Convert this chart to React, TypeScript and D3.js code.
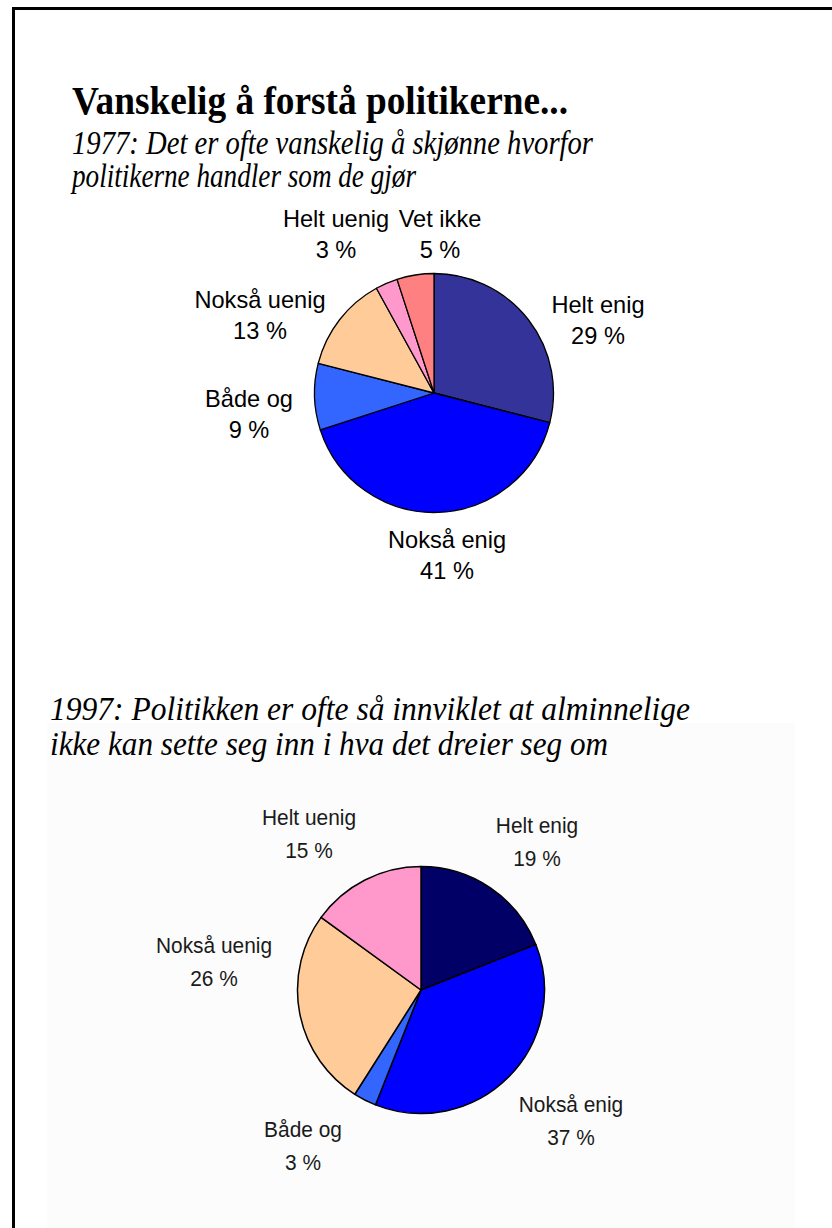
import * as d3 from "d3";

// survey answers
const categories1977 = ["Helt enig", "Nokså enig", "Både og", "Nokså uenig", "Helt uenig", "Vet ikke"];
const values1977 = [29, 41, 9, 13, 3, 5];
const categories1997 = ["Helt enig", "Nokså enig", "Både og", "Nokså uenig", "Helt uenig"];
const values1997 = [19, 37, 3, 26, 15];

const title = "Vanskelig å forstå politikerne...";
const subtitle1977 = ["1977: Det er ofte vanskelig å skjønne hvorfor", "politikerne handler som de gjør"];
const subtitle1997 = ["1997: Politikken er ofte så innviklet at alminnelige", "ikke kan sette seg inn i hva det dreier seg om"];

const colors1977: Record<string, string> = {
  "Helt enig": "#333399",
  "Nokså enig": "#0000ff",
  "Både og": "#3366ff",
  "Nokså uenig": "#ffcc99",
  "Helt uenig": "#ff99cc",
  "Vet ikke": "#ff8080",
};
const colors1997: Record<string, string> = {
  "Helt enig": "#000066",
  "Nokså enig": "#0000ff",
  "Både og": "#3366ff",
  "Nokså uenig": "#ffcc99",
  "Helt uenig": "#ff99cc",
};

// label block centres, relative to the pie centre
const labelAt1977: Record<string, [number, number]> = {
  "Helt enig": [164, -73],
  "Nokså enig": [13, 162],
  "Både og": [-185, 21],
  "Nokså uenig": [-174, -78],
  "Helt uenig": [-98, -159],
  "Vet ikke": [6, -159],
};
const labelAt1997: Record<string, [number, number]> = {
  "Helt uenig": [-112, -156],
  "Helt enig": [116, -148],
  "Nokså enig": [150, 131],
  "Både og": [-118, 156],
  "Nokså uenig": [-207, -28],
};

type PieProps = {
  cats: string[];
  vals: number[];
  cx: number;
  cy: number;
  r: number;
  colors: Record<string, string>;
  labelAt: Record<string, [number, number]>;
  fontSize: number;
  gap: number;
  squeeze: number;
  strokeWidth: number;
  textFill: string;
};

function Pie({ cats, vals, cx, cy, r, colors, labelAt, fontSize, gap, squeeze, strokeWidth, textFill }: PieProps) {
  const arcs = d3
    .pie<number>()
    .sort(null)
    .value((d) => d)(vals);
  const arc = d3.arc<d3.PieArcDatum<number>>().innerRadius(0).outerRadius(r);

  return (
    <g>
      <g transform={`translate(${cx},${cy})`}>
        {arcs.map((a, i) => (
          <path key={cats[i]} d={arc(a) || ""} fill={colors[cats[i]]} stroke="#000" strokeWidth={strokeWidth} strokeLinejoin="round" />
        ))}
      </g>
      {arcs.map((a, i) => {
        const [dx, dy] = labelAt[cats[i]];
        const x = cx + dx;
        const b1 = cy + dy - gap / 2 + fontSize * 0.358;
        return (
          <g key={"l" + cats[i]} fontFamily="'Liberation Sans', Arial, sans-serif" fontSize={fontSize} fill={textFill} textAnchor="middle">
            <text transform={`translate(${x},${b1}) scale(${squeeze},1)`}>{cats[i]}</text>
            <text transform={`translate(${x},${b1 + gap}) scale(${squeeze},1)`}>{`${a.data} %`}</text>
          </g>
        );
      })}
    </g>
  );
}

export default function App() {
  const W = 832,
    H = 1228;
  const serif = "'Liberation Serif', 'Times New Roman', serif";

  return (
    <div style={{ position: "absolute", left: 0, top: 0 }}>
      <svg width={W} height={H} viewBox={`0 0 ${W} ${H}`} style={{ display: "block", background: "#fff" }}>
        {/* frame, cut off on the right and bottom */}
        <path d={`M13.5,${H} V8.5 H${W}`} fill="none" stroke="#000" strokeWidth={3} />
        {/* faint backdrop of the pasted 1997 chart */}
        <rect x={47} y={723} width={748} height={H - 723} fill="#fcfcfc" />

        <text x={72} y={114} fontFamily={serif} fontWeight="bold" fontSize={40} textLength={496} lengthAdjust="spacingAndGlyphs">
          {title}
        </text>

        <g fontFamily={serif} fontStyle="italic" fontSize={33}>
          <text x={72} y={154} textLength={521} lengthAdjust="spacingAndGlyphs">
            {subtitle1977[0]}
          </text>
          <text x={72} y={187} textLength={344} lengthAdjust="spacingAndGlyphs">
            {subtitle1977[1]}
          </text>
        </g>

        <Pie
          cats={categories1977}
          vals={values1977}
          cx={434}
          cy={393}
          r={119.5}
          colors={colors1977}
          labelAt={labelAt1977}
          fontSize={23.6}
          gap={31}
          squeeze={1}
          strokeWidth={1.3}
          textFill="#000"
        />

        <g fontFamily={serif} fontStyle="italic" fontSize={34}>
          <text x={50} y={720} textLength={640} lengthAdjust="spacingAndGlyphs">
            {subtitle1997[0]}
          </text>
          <text x={50} y={755} textLength={558} lengthAdjust="spacingAndGlyphs">
            {subtitle1997[1]}
          </text>
        </g>

        <Pie
          cats={categories1997}
          vals={values1997}
          cx={421}
          cy={990}
          r={123.5}
          colors={colors1997}
          labelAt={labelAt1997}
          fontSize={22}
          gap={33}
          squeeze={0.95}
          strokeWidth={1.5}
          textFill="#1a1a1a"
        />
      </svg>
    </div>
  );
}
